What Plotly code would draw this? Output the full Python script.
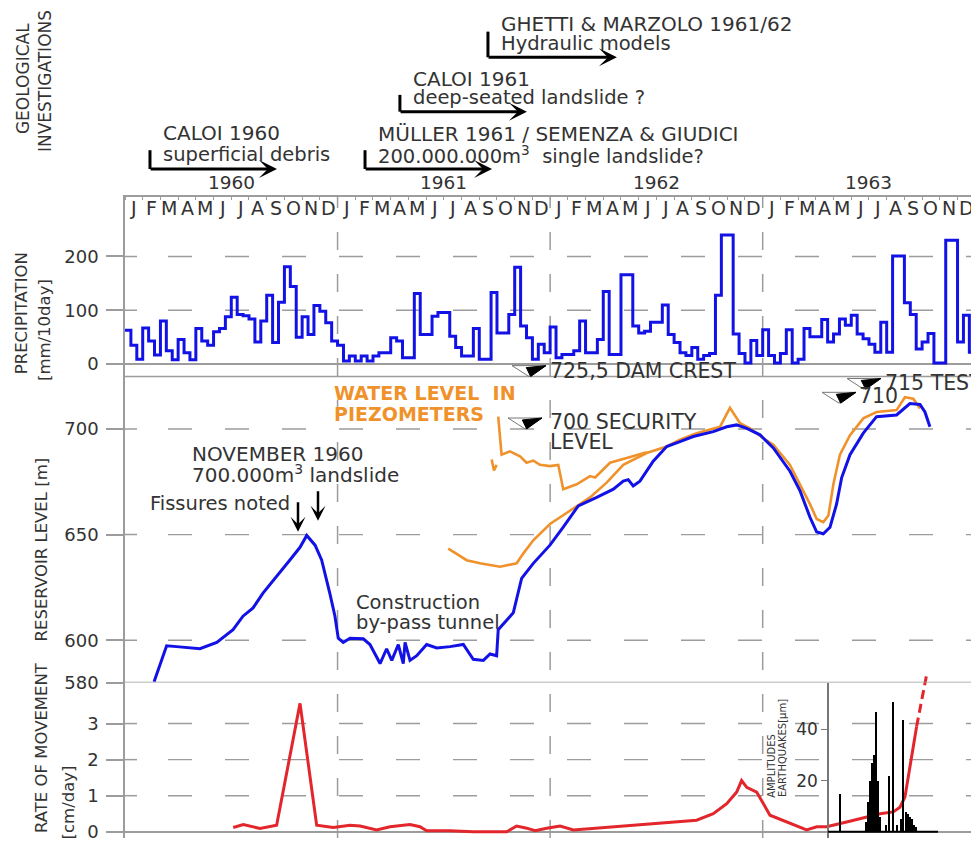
import plotly.graph_objects as go

W, H = 971, 848

# ---------------- data ----------------
month_letters = ["J", "F", "M", "A", "M", "J", "J", "A", "S", "O", "N", "D"]
years = ["1960", "1961", "1962", "1963"]

# precipitation, mm per 10 days (3 dekads per month)
precip_1960 = [63, 35, 9, 67, 43, 17, 80, 25, 8, 46, 21, 8, 66, 43, 35, 60, 66, 88,
               124, 92, 90, 84, 41, 80, 128, 40, 115, 181, 144, 50, 88, 55, 109, 98, 77, 43]
precip_1961 = [35, 6, 15, 6, 15, 6, 15, 21, 21, 49, 43, 12, 12, 131, 55, 55, 89, 96,
               96, 52, 31, 15, 15, 66, 9, 9, 133, 58, 58, 92, 180, 71, 49, 9, 37, 21]
precip_1962 = [69, 12, 18, 18, 25, 80, 21, 21, 46, 135, 18, 18, 166, 166, 71, 58, 61, 78,
               78, 110, 55, 40, 21, 16, 31, 9, 16, 20, 128, 240, 240, 56, 20, 2, 44, 16]
precip_1963 = [64, 16, 2, 20, 64, 2, 9, 66, 51, 51, 83, 41, 56, 84, 72, 91, 56, 47,
               37, 22, 78, 22, 201, 201, 114, 92, 28, 41, 57, 2, 2, 230, 230, 41, 91, 22]

# reservoir level [m a.s.l.]  (x in months since 1 Jan 1960)
res_month = [1.64, 2.35, 2.92, 4.23, 5.18, 6.10, 6.66, 7.23, 7.79, 8.56, 9.31, 9.88, 10.26,
             10.73, 11.10, 11.57, 11.85, 12.04, 12.32, 12.70, 13.45, 13.83, 14.40, 14.77,
             15.06, 15.43, 15.71, 15.81, 16.09, 16.47, 17.03, 17.60, 18.35, 19.10, 19.66,
             20.23, 20.61, 20.98, 21.07, 21.92, 22.39, 23.05, 23.99, 24.74, 25.59, 26.63,
             27.57, 28.13, 28.41, 28.69, 29.07, 29.82, 30.58, 31.33, 32.08, 33.21, 33.97,
             34.53, 35.10, 35.85, 36.60, 37.54, 38.11, 38.67, 39.05, 39.42, 39.80, 40.17,
             40.46, 40.93, 41.68, 42.43, 43.56, 44.31, 44.88, 45.16, 45.44]
res_level = [580.4, 597.4, 597, 596, 599, 605, 611.4, 615.3, 622.3, 630, 638, 644, 649.6,
             645, 638, 622, 611.5, 601, 599, 601, 600.7, 598, 589, 596,
             590.5, 598, 589, 599, 590.5, 592.7, 598, 596.4, 597, 598, 591,
             590.5, 593.5, 592.7, 605, 613, 629.3, 636.4, 645, 653.5, 663.6, 667.6,
             671.5, 675.3, 676, 673, 675.3, 684.7, 691.7, 694, 696.4, 698.7, 701,
             701.9, 700.3, 697.2, 691, 680, 670.7, 658.2, 651.2, 650.4, 653.5, 664.4,
             677, 687.8, 698, 705.8, 706.6, 712, 711.6, 708, 701]

# water level in piezometers [m]
piezo_month = [18.25, 19.29, 20.04, 21.17, 22.11, 22.48, 23.05, 23.99, 25.12, 26.25, 27.19,
               28.13, 29.45, 30.58, 31.33, 32.27, 33.59, 34.15, 34.72, 35.28, 36.03, 36.60,
               37.54, 38.11, 38.67, 39.05, 39.42, 39.71, 39.99, 40.36, 40.93, 41.68, 42.43,
               43.56, 44.03, 44.50, 44.88]
piezo_level = [643.4, 637.9, 636.4, 634.8, 636.4, 641, 647.3, 655, 661.3, 667.6, 674.6,
               683, 688.6, 691.7, 694.9, 698, 701, 710, 702.7, 700.3, 695.6, 692.5,
               683, 673.8, 664.4, 657.4, 655.9, 659, 673.8, 687.8, 697, 705, 708,
               708.9, 715, 714.3, 709.7]
piezo2_month = [21.07, 21.26, 21.73, 22.30, 22.67, 23.05, 23.43, 23.99, 24.46, 24.74, 25.50,
                26.25, 26.54, 27.38, 28.32, 29.45]
piezo2_level = [705.8, 687.8, 689.4, 687, 684, 685, 683, 682.4, 683, 671.5, 673.8,
                677.7, 677, 684, 686.3, 689]
piezo3_month = [20.70, 20.83, 20.98]
piezo3_level = [685.5, 680.3, 683]

# rate of movement [cm/day]
rate_month = [6.11, 6.68, 7.62, 8.56, 9.88, 10.82, 11.76, 12.70, 13.27, 14.21, 14.96, 16.09,
              16.65, 17.03, 18.35, 19.65, 21.55, 22.11, 22.68, 23.15, 23.81, 24.56, 25.31,
              32.27, 33.21, 33.97, 34.53, 34.81, 35.10, 35.66, 36.41, 37.35, 38.48, 39.05,
              39.61, 40.74, 41.87, 42.62, 43.37, 43.75, 44.03, 44.31, 44.69]
rate_value = [0.12, 0.2, 0.09, 0.18, 3.56, 0.18, 0.12, 0.18, 0.16, 0.05, 0.14, 0.2,
              0.14, 0.03, 0.03, 0.0, 0.0, 0.16, 0.1, 0.03, 0.1, 0.16, 0.05,
              0.32, 0.5, 0.78, 1.1, 1.42, 1.23, 1.1, 0.46, 0.27, 0.05, 0.14,
              0.14, 0.27, 0.41, 0.5, 0.55, 0.68, 0.96, 1.78, 2.92]
rate_ext_month = [44.69, 45.25]
rate_ext_value = [2.92, 4.34]

# earthquake amplitudes [micrometres]
eq_month = [40.36, 41.83, 41.94, 42.06, 42.17, 42.28, 42.39, 42.51, 42.62, 42.96, 43.13,
            43.36, 43.58, 43.80, 43.91, 44.08, 44.20, 44.31, 44.43, 44.54, 44.65]
eq_amp = [15, 4, 12, 20, 27, 30, 47, 20, 6, 3, 22, 51, 3, 5, 44, 8, 7, 6, 5, 3, 2]

# geological investigations
inv_title = ["CALOI 1960", "MÜLLER 1961 / SEMENZA & GIUDICI", "CALOI 1961",
             "GHETTI & MARZOLO 1961/62"]
inv_sub = ["superficial debris", "200.000.000m<sup>3</sup>\u00a0 single landslide?",
           "deep-seated landslide ?", "Hydraulic models"]
inv_start = [1.41, 13.55, 15.52, 20.49]
inv_end = [8.58, 20.72, 22.69, 27.77]

# tick values
precip_ticks = [0, 100, 200]
res_ticks = [580, 600, 650, 700]
rate_ticks = [0, 1, 2, 3]
eq_ticks = [20, 40]

# ---------------- style ----------------
FONT = "DejaVu Sans"
TXT = "#333333"
GRAY = "#9c9c9c"
BLUE = "#1212e6"
ORANGE = "#f0922c"
RED = "#e3262b"


def fy(p):
    return 1 - p / H


def fx(p):
    return p / W


X0, PXM = 125.0, 17.714


def mon(p):
    return (p - X0) / PXM


precip = precip_1960 + precip_1961 + precip_1962 + precip_1963
dekad_x = [k / 3 for k in range(len(precip))] + [len(precip) / 3]
precip_y = precip + [precip[-1]]

fig = go.Figure()
fig.add_trace(go.Scatter(x=dekad_x, y=precip_y, mode="lines", line=dict(color=BLUE, width=3, shape="hv"),
                         xaxis="x", yaxis="y", hoverinfo="skip"))
fig.add_trace(go.Scatter(x=piezo_month, y=piezo_level, mode="lines", line=dict(color=ORANGE, width=2.6),
                         xaxis="x", yaxis="y2"))
fig.add_trace(go.Scatter(x=piezo2_month, y=piezo2_level, mode="lines", line=dict(color=ORANGE, width=2.6),
                         xaxis="x", yaxis="y2"))
fig.add_trace(go.Scatter(x=piezo3_month, y=piezo3_level, mode="lines", line=dict(color=ORANGE, width=2.6),
                         xaxis="x", yaxis="y2"))
fig.add_trace(go.Scatter(x=res_month, y=res_level, mode="lines", line=dict(color=BLUE, width=3),
                         xaxis="x", yaxis="y2"))
fig.add_trace(go.Bar(x=eq_month, y=eq_amp, width=0.09, marker=dict(color="black", line=dict(width=0)),
                     xaxis="x", yaxis="y4"))
fig.add_trace(go.Scatter(x=rate_month, y=rate_value, mode="lines", line=dict(color=RED, width=3),
                         xaxis="x", yaxis="y3"))
fig.add_trace(go.Scatter(x=rate_ext_month, y=rate_ext_value, mode="lines",
                         line=dict(color=RED, width=3, dash="9px,5px"), xaxis="x", yaxis="y3"))


def yax(domain, rng, tickvals, **kw):
    d = dict(domain=domain, range=rng, anchor="x", tickmode="array", tickvals=tickvals,
             showline=True, linecolor=GRAY, linewidth=1.5, ticks="outside", ticklen=17,
             tickcolor=GRAY, tickwidth=1.5, ticklabelstandoff=4,
             tickfont=dict(size=18, color=TXT, family=FONT), showgrid=False,
             zeroline=False, fixedrange=True)
    d.update(kw)
    return d


PRE_DOM = [fy(381), fy(199)]
RES_DOM = [fy(690.7), fy(381)]
RATE_DOM = [0, fy(678)]
EQ_DOM = [0, fy(690.7)]

layout = dict(
    width=W, height=H, margin=dict(l=0, r=0, t=0, b=0),
    paper_bgcolor="white", plot_bgcolor="rgba(0,0,0,0)", showlegend=False, bargap=0,
    font=dict(family=FONT, color=TXT),
    xaxis=dict(domain=[X0 / W, 1], range=[0, 47.76], anchor="y", side="top",
               showline=True, linecolor=GRAY, linewidth=1.5, showticklabels=False,
               tickmode="array", tickvals=[i + 0.5 for i in range(48)], ticks="",
               showgrid=False, zeroline=False, fixedrange=True,
               minor=dict(tickmode="array", tickvals=list(range(49)), ticks="inside", ticklen=4,
                          tickcolor=GRAY, showgrid=False)),
    yaxis=yax(PRE_DOM, [-(381 - 368.5) / 0.545, (368.5 - 199) / 0.545], precip_ticks,
              zeroline=True, zerolinecolor=GRAY, zerolinewidth=1.5),
    yaxis2=yax(RES_DOM, [580, 724.8], res_ticks),
    yaxis3=yax(RATE_DOM, [-(H - 841.7) / 36.5, (841.7 - 678) / 36.5], rate_ticks,
               zeroline=True, zerolinecolor=GRAY, zerolinewidth=1.5),
    yaxis4=dict(domain=EQ_DOM, range=[-(H - 841.7) / 2.59, (841.7 - 690.7) / 2.59],
                anchor="free", position=828 / W,
                tickmode="array", tickvals=eq_ticks, showline=True, linecolor="#777777", linewidth=1.5,
                ticks="outside", ticklen=6, tickcolor="#777777", showgrid=False, zeroline=False,
                tickfont=dict(size=17, color=TXT, family=FONT), fixedrange=True),
)
fig.update_layout(**layout)

shapes = []
# dashed horizontal grid (with a short solid cross-stub at the axis)
for yref, vals in (("y", precip_ticks[1:]), ("y2", res_ticks[1:]), ("y3", rate_ticks[1:])):
    for v in vals:
        shapes.append(dict(type="line", xref="paper", yref=yref, x0=fx(125), x1=fx(137), y0=v, y1=v,
                           layer="below", line=dict(color=GRAY, width=1.5)))
        shapes.append(dict(type="line", xref="paper", yref=yref, x0=fx(168), x1=1, y0=v, y1=v,
                           layer="below", line=dict(color=GRAY, width=1.4, dash="24px,33px")))
# panel frame lines of reservoir panel
shapes.append(dict(type="line", xref="x domain", yref="y2 domain", x0=0, x1=1, y0=1, y1=1,
                   line=dict(color=GRAY, width=1.5)))
shapes.append(dict(type="line", xref="x domain", yref="y2", x0=0, x1=1, y0=580, y1=580,
                   line=dict(color=GRAY, width=1.5)))
# year separators
for m in (12, 24, 36):
    shapes.append(dict(type="line", xref="x", yref="paper", x0=m, x1=m, y0=0, y1=fy(199),
                       layer="below", line=dict(color=GRAY, width=1.5, dash="18px,24px")))
# earthquake baseline
shapes.append(dict(type="line", xref="x", yref="y4", x0=mon(828), x1=mon(938), y0=0, y1=0,
                   line=dict(color="black", width=2)))


def P(x, y):
    return f"{x / W:.5f},{1 - y / H:.5f}"


def level_sym(xl, yt):
    w, h = 34, 11
    shapes.append(dict(type="path", xref="paper", yref="paper",
                       path=f"M {P(xl, yt)} L {P(xl + w, yt)} L {P(xl + w * 0.5, yt + h)} Z",
                       line=dict(color="#777777", width=1)))
    shapes.append(dict(type="path", xref="paper", yref="paper",
                       path=f"M {P(xl + w * 0.42, yt + 2)} L {P(xl + w, yt)} L {P(xl + w * 0.55, yt + h)} Z",
                       fillcolor="black", line=dict(color="black", width=1)))


level_sym(512, 370)
level_sym(508, 423)
level_sym(847, 383)
level_sym(822, 397)

annotations = []


def txt(s, x, y, size=19, color=TXT, xanchor="left", angle=0):
    annotations.append(dict(text=s, x=x / W, y=1 - y / H, xref="paper", yref="paper", showarrow=False,
                            xanchor=xanchor, yanchor="middle", textangle=angle,
                            font=dict(family=FONT, size=size, color=color)))


# month letters and years on the top axis
for i in range(48):
    annotations.append(dict(text=month_letters[i % 12], x=i + 0.5, y=fy(210), xref="x", yref="paper",
                            showarrow=False, xanchor="center", yanchor="middle",
                            font=dict(family=FONT, size=19, color=TXT)))
for i, yr in enumerate(years):
    annotations.append(dict(text=yr, x=6 + 12 * i, y=fy(185), xref="x", yref="paper", showarrow=False,
                            xanchor="center", yanchor="middle", font=dict(family=FONT, size=18.5, color=TXT)))

# header: geological investigations
arrow_y = [171, 171, 113, 58]
bar_top = [152, 152, 96, 32]
t1_y = [135, 136, 80, 24]
t2_y = [156, 157, 99, 44]
for i in range(4):
    shapes.append(dict(type="line", xref="x", yref="paper", x0=inv_start[i], x1=inv_start[i],
                       y0=fy(bar_top[i]), y1=fy(arrow_y[i]), line=dict(color="black", width=3)))
    annotations.append(dict(x=inv_end[i], y=fy(arrow_y[i]), xref="x", yref="paper",
                            ax=inv_start[i] - 0.05, axref="x", ay=0, ayref="pixel", text="",
                            showarrow=True, arrowhead=3, arrowsize=1, arrowwidth=3,
                            arrowcolor="black", standoff=0))
    xl = X0 + inv_start[i] * PXM + 11
    txt(inv_title[i], xl, t1_y[i], size=20)
    txt(inv_sub[i], xl, t2_y[i], size=19.5)

# axis titles
txt("GEOLOGICAL", 23, 80, size=17, xanchor="center", angle=-90)
txt("INVESTIGATIONS", 45, 82, size=17, xanchor="center", angle=-90)
txt("PRECIPITATION", 21, 317, size=16.5, xanchor="center", angle=-90)
txt("[mm/10day]", 44, 334, size=16.5, xanchor="center", angle=-90)
txt("RESERVOIR LEVEL [m]", 41, 556, size=16.5, xanchor="center", angle=-90)
txt("RATE OF MOVEMENT", 41, 757, size=16.5, xanchor="center", angle=-90)
txt("[cm/day]", 68, 812, size=16.5, xanchor="center", angle=-90)
txt("AMPLITUDES", 772, 775, size=10, xanchor="center", angle=-90)
txt("EARTHQUAKES[μm]", 782, 757, size=10, xanchor="center", angle=-90)

# reservoir panel labels
txt("NOVEMBER 1960", 190, 459, size=20)
txt("700.000m<sup>3</sup> landslide", 190, 480, size=20)
txt("Fissures noted", 148, 510, size=19.5)
txt("Construction", 354, 610, size=19.5)
txt("by-pass tunnel", 354, 630, size=19.5)
txt("<b>WATER LEVEL\u00a0\u00a0IN</b>", 332, 398, size=19, color=ORANGE)
txt("<b>PIEZOMETERS</b>", 332, 419, size=19, color=ORANGE)
txt("700 SECURITY", 548, 427, size=20.5)
txt("LEVEL", 548, 447, size=20.5)
txt("725,5 DAM CREST", 548, 375, size=20.5)
txt("715 TEST", 883, 388, size=20.5)
txt("710", 857, 401, size=20.5)

# arrows: fissures / landslide
for xp, yh in ((298, 538), (318, 527)):
    annotations.append(dict(x=mon(xp), y=fy(yh), xref="x", yref="paper", ax=0, ay=-31,
                            axref="pixel", ayref="pixel", text="", showarrow=True, arrowhead=3,
                            arrowsize=1, arrowwidth=2.5, arrowcolor="black", standoff=0))

fig.update_layout(shapes=shapes, annotations=annotations)

fig.write_html("out.html", include_plotlyjs=True, config={"displayModeBar": False},
               post_script="document.body.style.margin='0px';document.body.style.overflow='hidden';")
